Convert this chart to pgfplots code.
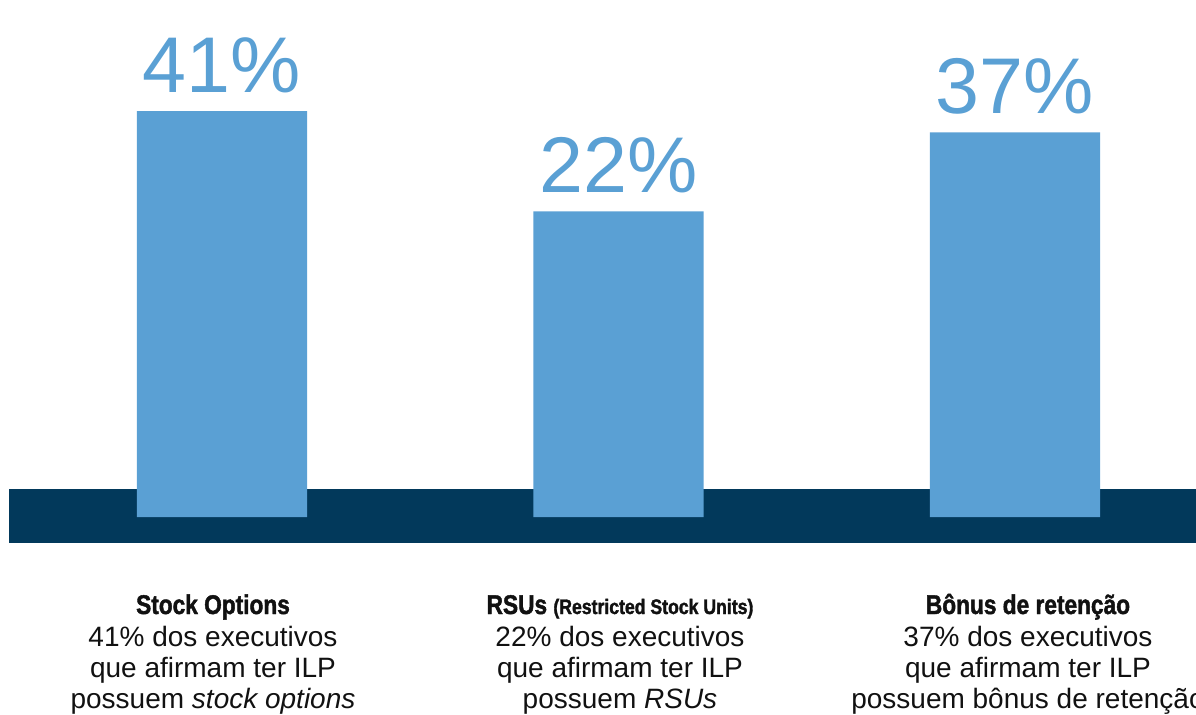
\documentclass[border=0pt]{standalone}
\usepackage{fontspec}
\setmainfont{Liberation Sans}
\newfontfamily\condfont[FakeStretch=0.84,FakeBold=1.6]{Liberation Sans}
\usepackage{pgfplots}
\usepackage{pgfplotstable}
\pgfplotsset{compat=1.18}
\definecolor{barblue}{RGB}{90,160,212}
\definecolor{navy}{RGB}{2,57,91}
\definecolor{ink}{RGB}{17,17,17}

% share of executives with ILP holding each instrument (%)
\pgfplotstableread{
pos value
0 41
1 22
2 37
}\ilp

\begin{document}
\begin{tikzpicture}[x=1pt,y=1pt]
\path[use as bounding box] (0,-85.5) rectangle (598,271.5);
\clip (0,-85.5) rectangle (598,271.5);
% dark band behind the bars
\fill[navy] (4.5,0) rectangle (600,27);
\begin{axis}[
  at={(0,0)}, anchor=south west,
  scale only axis, width=598pt, height=271.5pt,
  hide axis, clip=false,
  xmin=-0.5599, xmax=2.4565,
  y coord trafo/.code={\pgfmathparse{#1+36}},
  ymin=-40.93, ymax=62.10,
  ybar, bar width=0.4288,
  point meta=explicit,
  /pgf/number format/assume math mode=true,
  nodes near coords={\pgfmathprintnumber{\pgfplotspointmeta}\%},
  every node near coord/.append style={font=\fontsize{39.5}{40}\selectfont,
    text=barblue, inner sep=0pt, yshift=9pt},
]
\addplot[fill=barblue, draw=none] table[x=pos, y=value, meta=value] {\ilp};
\end{axis}

\begin{scope}[every node/.style={anchor=base, inner sep=0pt, text=ink,
    font=\fontsize{14}{16}\selectfont}]
  \node at (106.5,-35.5) {\condfont\bfseries\fontsize{13.5}{16}\selectfont Stock Options};
  \node at (106.5,-51.5) {41\% dos executivos};
  \node at (106.5,-67.2) {que afirmam ter ILP};
  \node at (106.5,-82.8) {possuem \textit{stock options}};

  \node at (310,-35.5) {\condfont\bfseries\fontsize{13.5}{16}\selectfont RSUs {\fontsize{10.5}{12}\selectfont (Restricted Stock Units)}};
  \node at (310,-51.5) {22\% dos executivos};
  \node at (310,-67.2) {que afirmam ter ILP};
  \node at (310,-82.8) {possuem \textit{RSUs}};

  \node at (514,-35.5) {\condfont\bfseries\fontsize{13.5}{16}\selectfont Bônus de retenção};
  \node at (514,-51.5) {37\% dos executivos};
  \node at (514,-67.2) {que afirmam ter ILP};
  \node at (514,-82.8) {possuem bônus de retenção};
\end{scope}
\end{tikzpicture}
\end{document}
